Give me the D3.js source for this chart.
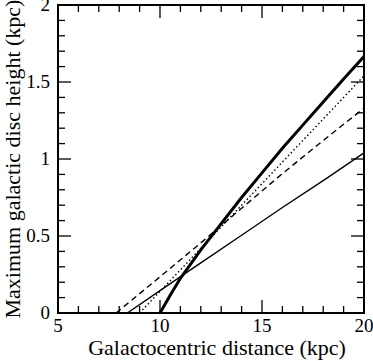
<!DOCTYPE html>
<html>
<head>
<meta charset="utf-8">
<script src="https://cdn.jsdelivr.net/npm/d3@7"></script>
<style>
  body { margin: 0; background: #fff; }
</style>
</head>
<body>
<svg id="chart" width="373" height="361"></svg>
<script>
// values
const thickX = [10, 10.5, 11, 12, 13, 14, 15, 16, 17, 18, 19, 20];
const thickY = [0, 0.115, 0.225, 0.41, 0.58, 0.75, 0.91, 1.07, 1.22, 1.37, 1.52, 1.665];
const thinX = [8.4, 10, 12, 14, 16, 18, 20];
const thinY = [0, 0.145, 0.325, 0.505, 0.685, 0.86, 1.04];
const dashX = [7.85, 10, 12, 14, 16, 18, 20];
const dashY = [0, 0.235, 0.455, 0.68, 0.905, 1.12, 1.33];
const dotX = [9, 10, 12, 14, 16, 18, 20];
const dotY = [0, 0.14, 0.42, 0.70, 0.98, 1.26, 1.54];

const xTicks = [5, 10, 15, 20];
const yTicks = [0, 0.5, 1, 1.5, 2];
const yTickLabels = ["0", "0.5", "1", "1.5", "2"];

const FONT = "'Liberation Serif', 'Times New Roman', serif";
const margin = { top: 5, right: 9, bottom: 48, left: 58 };
const width = 373, height = 361;

const svg = d3.select("#chart");

const x = d3.scaleLinear().domain([5, 20]).range([margin.left, width - margin.right]);
const y = d3.scaleLinear().domain([0, 2]).range([height - margin.bottom, margin.top]);

const g = svg.append("g");

// minor / major ticks on all four sides, pointing inward
const majorLen = 13, minorLen = 7;
const xMinor = d3.range(5, 20.001, 1);
const yMinor = d3.range(0, 2.001, 0.1);

xMinor.forEach(v => {
  const isMajor = Math.abs(v % 5) < 1e-6;
  const len = isMajor ? majorLen : minorLen;
  g.append("line").attr("x1", x(v)).attr("x2", x(v))
    .attr("y1", y(0)).attr("y2", y(0) - len)
    .attr("stroke", "#000").attr("stroke-width", 1.3);
  g.append("line").attr("x1", x(v)).attr("x2", x(v))
    .attr("y1", y(2)).attr("y2", y(2) + len)
    .attr("stroke", "#000").attr("stroke-width", 1.3);
});
yMinor.forEach(v => {
  const isMajor = Math.abs(Math.round(v * 10) % 5) === 0;
  const len = isMajor ? majorLen : minorLen;
  g.append("line").attr("x1", x(5)).attr("x2", x(5) + len)
    .attr("y1", y(v)).attr("y2", y(v))
    .attr("stroke", "#000").attr("stroke-width", 1.3);
  g.append("line").attr("x1", x(20)).attr("x2", x(20) - len)
    .attr("y1", y(v)).attr("y2", y(v))
    .attr("stroke", "#000").attr("stroke-width", 1.3);
});

// tick labels
g.selectAll(".xlab").data(xTicks).enter().append("text")
  .attr("class", "xlab")
  .attr("x", d => x(d)).attr("y", y(0) + 19)
  .attr("text-anchor", "middle")
  .attr("font-family", FONT).attr("font-size", 19)
  .text(d => d);

g.selectAll(".ylab").data(yTicks).enter().append("text")
  .attr("class", "ylab")
  .attr("x", x(5) - 8).attr("y", d => y(d) + 6)
  .attr("text-anchor", "end")
  .attr("font-family", FONT).attr("font-size", 19)
  .text((d, i) => yTickLabels[i]);

// series
const lineGen = d3.line().x(d => x(d[0])).y(d => y(d[1]));
const zip = (xs, ys) => xs.map((v, i) => [v, ys[i]]);

const plot = svg.append("g");
plot.append("path").datum(zip(thinX, thinY))
  .attr("d", lineGen).attr("fill", "none")
  .attr("stroke", "#000").attr("stroke-width", 1.4);
plot.append("path").datum(zip(dashX, dashY))
  .attr("d", lineGen).attr("fill", "none")
  .attr("stroke", "#000").attr("stroke-width", 1.4)
  .attr("stroke-dasharray", "6,4");
plot.append("path").datum(zip(dotX, dotY))
  .attr("d", lineGen).attr("fill", "none")
  .attr("stroke", "#000").attr("stroke-width", 1.4)
  .attr("stroke-dasharray", "1.5,2.5");
plot.append("path").datum(zip(thickX, thickY))
  .attr("d", lineGen).attr("fill", "none")
  .attr("stroke", "#000").attr("stroke-width", 3);

// frame
svg.append("rect")
  .attr("x", x(5)).attr("y", y(2))
  .attr("width", x(20) - x(5)).attr("height", y(0) - y(2))
  .attr("fill", "none").attr("stroke", "#000").attr("stroke-width", 2);

// axis titles
svg.append("text")
  .attr("x", 217).attr("y", height - 6)
  .attr("text-anchor", "middle")
  .attr("font-family", FONT).attr("font-size", 22)
  .text("Galactocentric distance (kpc)");

svg.append("text")
  .attr("transform", `translate(19.5, ${(y(0) + y(2)) / 2}) rotate(-90)`)
  .attr("text-anchor", "middle")
  .attr("font-family", FONT).attr("font-size", 22)
  .text("Maximum galactic disc height (kpc)");
</script>
</body>
</html>
